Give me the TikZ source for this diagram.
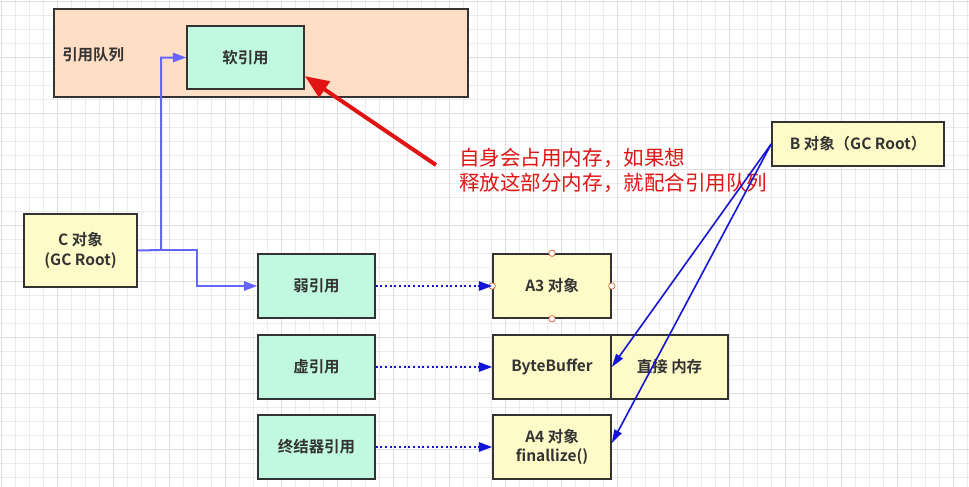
\documentclass[tikz,border=0pt]{standalone}
\usepackage{fontspec}
\setmainfont{Noto Sans CJK SC}[BoldFont={Noto Sans CJK SC Bold}]
\usetikzlibrary{arrows.meta}
\definecolor{queuefill}{RGB}{255,222,198}
\definecolor{reffill}{RGB}{192,248,224}
\definecolor{objfill}{RGB}{255,251,200}
\definecolor{boxline}{RGB}{51,51,51}
\definecolor{linkblue}{RGB}{100,100,255}
\definecolor{deepblue}{RGB}{20,20,215}
\definecolor{notered}{RGB}{225,20,20}
\definecolor{gridminor}{RGB}{236,236,236}
\definecolor{gridmajor}{RGB}{222,222,222}

\begin{document}
\begin{tikzpicture}[x=0.75pt,y=-0.75pt,
    boxtext/.style={text=boxline, align=center, inner sep=0pt, font=\bfseries\fontsize{11.6}{14.5}\selectfont},
    box/.style={boxtext, draw=boxline, line width=1.2pt},
    refbox/.style={box, fill=reffill, minimum width=117*0.75pt, minimum height=64*0.75pt},
    objbox/.style={box, fill=objfill, minimum width=118*0.75pt, minimum height=64*0.75pt},
    linkarrow/.style={draw=linkblue, line width=1.5pt, -{Triangle[length=10pt,width=7pt]}},
    dotarrow/.style={draw=deepblue, line width=1.5pt, dotted, -{Triangle[length=10pt,width=7pt]}},
    rootarrow/.style={draw=deepblue, line width=1.2pt, -{Triangle[length=10pt,width=6pt]}},
    handle/.style={draw=brown!70!red, fill=white, line width=0.5pt}]
        %background
            \useasboundingbox (0,0) rectangle (969,486);
            \fill[white] (0,0) rectangle (969,486);
            \begin{scope}
                \clip (0,0) rectangle (969,486);
                \draw[gridminor, line width=0.6pt, step=10.5pt, shift={(1,1)}] (-14,-14) grid (980,500);
                \draw[gridmajor, line width=0.6pt, step=42pt, shift={(1,1)}] (-56,-56) grid (1030,540);
            \end{scope}
        %queue
            \node[box, fill=queuefill, minimum width=414*0.75pt, minimum height=88*0.75pt] (queue) at (261,53) {};
            \node[boxtext, anchor=west] (queuelabel) at (62,55) {引用队列};
            \node[refbox, minimum height=63*0.75pt] (soft) at (245.5,57.5) {软引用};
        %roots
            \node[box, fill=objfill, minimum width=113*0.75pt, minimum height=73*0.75pt] (croot) at (80.5,250.5) {C 对象\\(GC Root)};
            \node[box, fill=objfill, minimum width=172*0.75pt, minimum height=44*0.75pt] (broot) at (858,144) {B 对象（GC Root）};
        %references
            \node[refbox] (weak) at (316.5,286) {弱引用};
            \node[refbox] (phantom) at (316.5,367) {虚引用};
            \node[refbox] (final) at (316.5,447) {终结器引用};
        %objects
            \node[objbox] (a3) at (552,286) {A3 对象};
            \node[objbox] (bbuf) at (552,367) {ByteBuffer};
            \node[objbox, minimum width=117*0.75pt] (direct) at (669.5,367) {直接 内存};
            \node[objbox] (a4) at (552,447) {A4 对象\\finallize()};
            \foreach \side in {north,south,east,west}
                \draw[handle] (a3.\side) circle (3.2);
        %note
            \node[anchor=west, align=left, text=notered, inner sep=0pt,
                font=\fontsize{15.4}{18.75}\selectfont] (note) at (459,170.5)
                {自身会占用内存，如果想\\释放这部分内存，就配合引用队列};
        % lines
            \coordinate (cjoin) at (161,250);
            \draw[linkarrow] (croot.east) -- (cjoin) |- (soft.west);
            \draw[linkarrow] (cjoin) -- (197,250) |- (weak.west);
            \draw[dotarrow] (weak.east) -- (a3.west);
            \draw[dotarrow] (phantom.east) -- (bbuf.west);
            \draw[dotarrow] (final.east) -- (a4.west);
            \draw[rootarrow] (broot.west) -- (bbuf.east);
            \draw[rootarrow] (broot.west) -- ([yshift=3pt]a4.east);
            \coordinate (notetail) at (436,165);
            \draw[notered, line width=3pt, -{Triangle[length=18pt,width=14pt]}] (notetail) -- ([yshift=-13.9pt]soft.east);
    \end{tikzpicture}
\end{document}
